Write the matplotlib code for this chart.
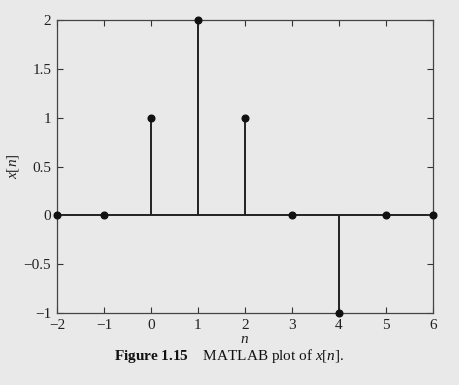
import numpy as np
import matplotlib.pyplot as plt

plt.rcParams['font.family'] = ['Liberation Serif', 'DejaVu Serif']
plt.rcParams['mathtext.fontset'] = 'custom'
plt.rcParams['mathtext.rm'] = 'Liberation Serif'
plt.rcParams['mathtext.it'] = 'Liberation Serif:italic'
plt.rcParams['mathtext.bf'] = 'Liberation Serif:bold'

# data
n = [-2, -1, 0, 1, 2, 3, 4, 5, 6]
x = [0, 0, 1, 2, 1, 0, -1, 0, 0]
xticks = [-2, -1, 0, 1, 2, 3, 4, 5, 6]
yticks = [-1, -0.5, 0, 0.5, 1, 1.5, 2]
ytick_labels = ['\u22121', '\u22120.5', '0', '0.5', '1', '1.5', '2']
xtick_labels = ['\u22122', '\u22121', '0', '1', '2', '3', '4', '5', '6']

bg = '#e9e9e9'
fig = plt.figure(figsize=(4.59, 3.85), dpi=100, facecolor=bg)
ax = fig.add_axes([0.124, 0.187, 0.819, 0.761], facecolor=bg)

ax.axhline(0, color='#222222', lw=1.4, zorder=1)
ml, sl, bl = ax.stem(n, x, linefmt='-', markerfmt='o', basefmt=' ')
plt.setp(sl, color='#222222', linewidth=1.4, clip_on=False)
plt.setp(ml, color='#111111', markersize=4.8, clip_on=False, zorder=5)

ax.set_xlim(-2, 6)
ax.set_ylim(-1, 2)
ax.set_xticks(xticks)
ax.set_xticklabels(xtick_labels)
ax.set_yticks(yticks)
ax.set_yticklabels(ytick_labels)
ax.tick_params(direction='in', top=True, right=True, length=4, width=0.8,
               labelsize=11, colors='#333333', labelcolor='#222222', pad=4)
for s in ax.spines.values():
    s.set_color('#444444')
    s.set_linewidth(0.9)

ax.set_xlabel('$n$', fontsize=11, labelpad=1, color='#222222')
ax.set_ylabel('$x[n]$', fontsize=11, labelpad=2, color='#222222')

fig.text(0.5, 0.075, r'$\mathbf{Figure\ 1.15}$' + '    MATLAB plot of ' + r'$x$[$n$].',
         ha='center', va='center', fontsize=11, color='#111111')

fig.savefig('out.png', dpi=100, facecolor=bg)
